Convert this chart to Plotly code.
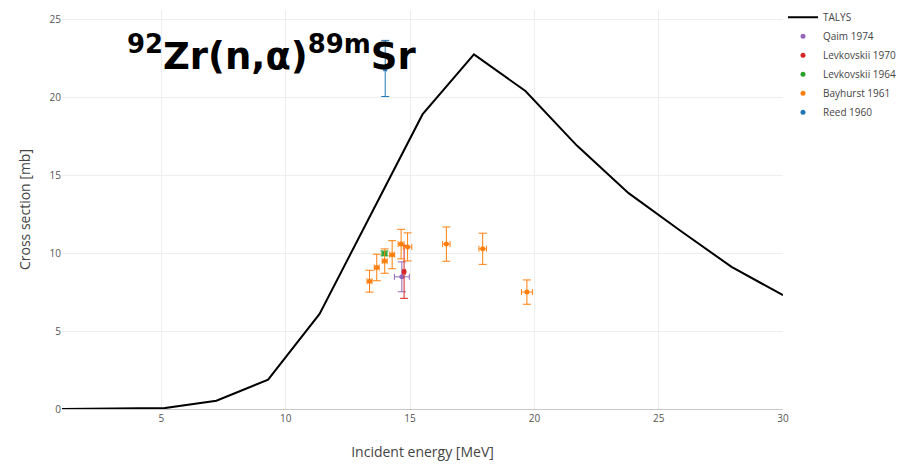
import plotly.graph_objects as go

# TALYS calculation
talys_e = [1, 3.07, 5.14, 7.21, 9.29, 11.36, 13.43, 15.5, 17.57, 19.64, 21.71, 23.79, 25.86, 27.93, 30]
talys_xs = [0, 0.01, 0.06, 0.53, 1.88, 6.1, 12.5, 18.9, 22.75, 20.4, 16.9, 13.85, 11.45, 9.12, 7.3]

# Experimental data
qaim_e = [14.67]; qaim_xs = [8.48]; qaim_dxs = [0.96]; qaim_de = [0.3]
lev70_e = [14.76]; lev70_xs = [8.8]; lev70_dxs = [1.7]; lev70_de = [0.05]
lev64_e = [13.97]; lev64_xs = [9.98]; lev64_dxs = [0.15]; lev64_de = [0.1]
bay_e = [13.37, 13.66, 13.98, 14.28, 14.64, 14.9, 16.46, 17.92, 19.7]
bay_xs = [8.2, 9.08, 9.49, 9.9, 10.58, 10.4, 10.58, 10.28, 7.5]
bay_dxs = [0.7, 0.85, 0.78, 0.9, 0.95, 0.9, 1.1, 1.0, 0.78]
bay_de = [0.1, 0.1, 0.1, 0.1, 0.12, 0.17, 0.15, 0.15, 0.22]
reed_e = [14.0]; reed_xs = [21.85]; reed_dxs = [1.8]; reed_de = [0.05]

fig = go.Figure()
fig.add_trace(go.Scatter(x=talys_e, y=talys_xs, mode="lines", name="TALYS",
                         line=dict(color="black", width=2)))

def exp_trace(x, y, dy, dx, name, color):
    return go.Scatter(x=x, y=y, mode="markers", name=name,
                      marker=dict(color=color, size=5, symbol="circle"),
                      error_y=dict(type="data", array=dy, color=color, thickness=1, width=4),
                      error_x=dict(type="data", array=dx, color=color, thickness=1, width=3))

fig.add_trace(exp_trace(qaim_e, qaim_xs, qaim_dxs, qaim_de, "Qaim 1974", "#9467bd"))
fig.add_trace(exp_trace(lev70_e, lev70_xs, lev70_dxs, lev70_de, "Levkovskii 1970", "#d62728"))
fig.add_trace(exp_trace(lev64_e, lev64_xs, lev64_dxs, lev64_de, "Levkovskii 1964", "#2ca02c"))
fig.add_trace(exp_trace(bay_e, bay_xs, bay_dxs, bay_de, "Bayhurst 1961", "#ff7f0e"))
fig.add_trace(exp_trace(reed_e, reed_xs, reed_dxs, reed_de, "Reed 1960", "#1f77b4"))

fig.add_annotation(text="<b><sup>92</sup>Zr(n,α)<sup>89m</sup>Sr</b>",
                   xref="paper", yref="paper", x=0.087, y=0.89,
                   xanchor="left", yanchor="middle", showarrow=False,
                   font=dict(family="DejaVu Sans", size=37, color="black"))

fig.update_layout(
    width=901, height=465,
    margin=dict(l=62, r=118, t=10, b=56, autoexpand=False),
    paper_bgcolor="white", plot_bgcolor="white",
    font=dict(family="Open Sans, sans-serif", color="#444"),
    legend=dict(x=1.0, y=1.018, xanchor="left", yanchor="top",
                font=dict(size=10, color="#444")),
    showlegend=True,
)
fig.update_xaxes(range=[1, 30], dtick=5, showgrid=True, gridcolor="#eeeeee",
                 zeroline=False, showline=True, linecolor="#c8c8c8", automargin=False,
                 tickfont=dict(size=10, color="#555"),
                 title=dict(text="Incident energy [MeV]", font=dict(size=14, color="#444"), standoff=23))
fig.update_yaxes(range=[0, 25.6], dtick=5, showgrid=True, gridcolor="#eeeeee",
                 zeroline=False, automargin=False, tickfont=dict(size=10, color="#555"),
                 title=dict(text="Cross section [mb]", font=dict(size=14, color="#444")))

fig.write_html("out.html")
